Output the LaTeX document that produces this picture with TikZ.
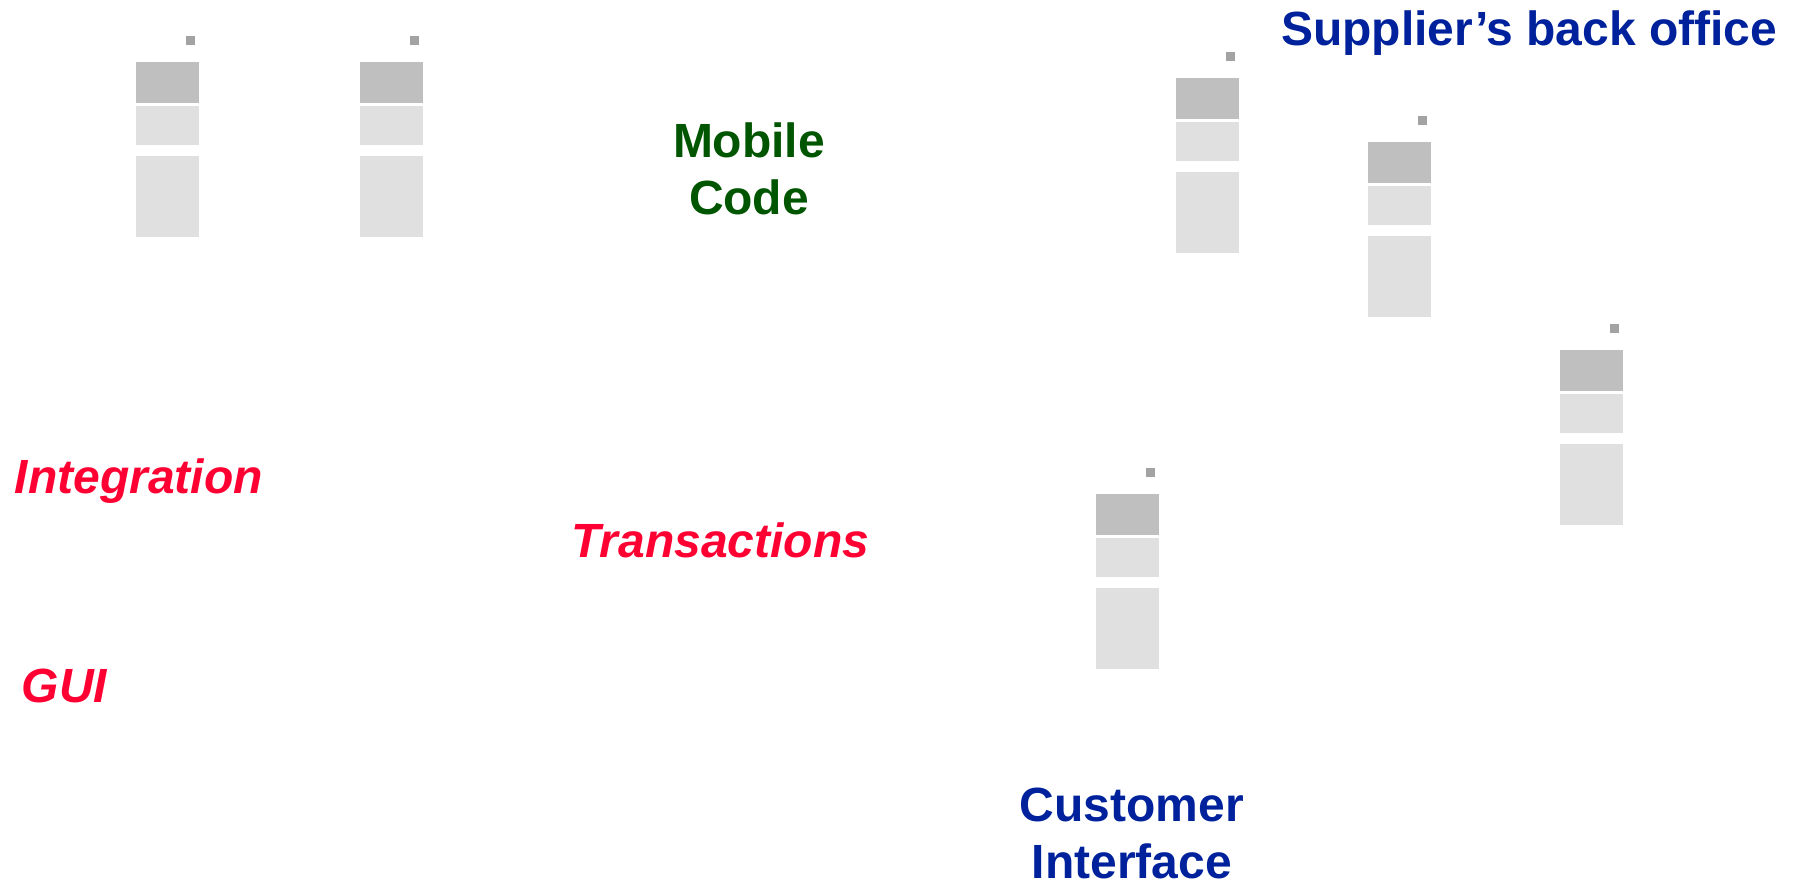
\documentclass[tikz,border=0pt]{standalone}
\usepackage{fontspec}
\setmainfont{Liberation Sans}
\definecolor{towerdark}{HTML}{BFBFBF}
\definecolor{towerlight}{HTML}{E0E0E0}
\definecolor{towerdot}{HTML}{A3A3A3}
\definecolor{labelblue}{HTML}{00219C}
\definecolor{labelgreen}{HTML}{005500}
\definecolor{labelred}{HTML}{FF0033}
\tikzset{
  block/.style={anchor=north west,inner sep=0pt,outer sep=0pt,draw=none,minimum width=63pt},
  dotbox/.style={anchor=north west,inner sep=0pt,outer sep=0pt,draw=none,fill=towerdot,minimum width=9pt,minimum height=9pt},
  headblock/.style={block,fill=towerdark,minimum height=41pt},
  midblock/.style={block,fill=towerlight,minimum height=39pt},
  lowblock/.style={block,fill=towerlight,minimum height=81pt},
  bluelabel/.style={text=labelblue,font=\fontsize{48}{57}\selectfont\bfseries,inner sep=0pt,anchor=base west},
  greenlabel/.style={text=labelgreen,font=\fontsize{48}{57}\selectfont\bfseries,inner sep=0pt,anchor=base},
  redlabel/.style={text=labelred,font=\fontsize{48}{57}\selectfont\bfseries\itshape,inner sep=0pt,anchor=base west}
}
\begin{document}
\begin{tikzpicture}[x=1pt,y=-1pt]
\useasboundingbox (0,0) rectangle (1796,886);
\foreach \n/\dx/\dy in {a/0/0,b/224/0,c/1040/16,d/1232/80,e/1424/288.4,f/960/432.4}{
  \node[dotbox] (dot\n) at (186+\dx,36+\dy) {};
  \node[headblock] (head\n) at (136+\dx,62+\dy) {};
  \node[midblock] (mid\n) at (136+\dx,106+\dy) {};
  \node[lowblock] (low\n) at (136+\dx,156+\dy) {};
}
\node[bluelabel] (supplier) at (1281,45.5) {Supplier’s back office};
\node[greenlabel] (mobile) at (749,157.5) {Mobile};
\node[greenlabel] (code) at (749,214.5) {Code};
\node[bluelabel,anchor=base] (customer) at (1132,821.5) {Customer};
\node[bluelabel,anchor=base] (interface) at (1132,878.5) {Interface};
\node[redlabel] (integration) at (14.5,493) {Integration};
\node[redlabel] (transactions) at (571,557) {Transactions};
\node[redlabel] (gui) at (21.5,702) {GUI};
\end{tikzpicture}
\end{document}
